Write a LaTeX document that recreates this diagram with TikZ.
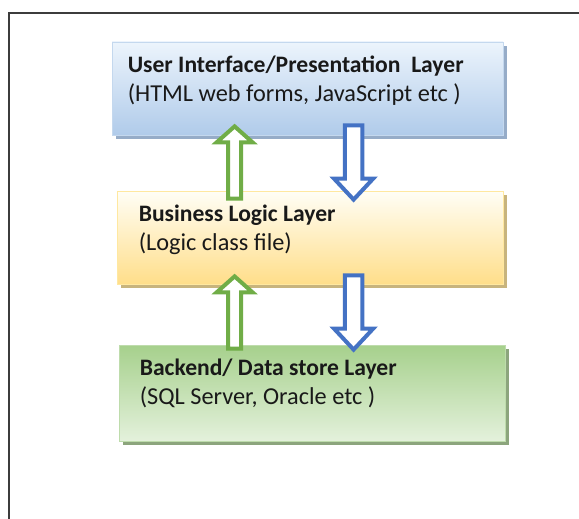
\documentclass[tikz,border=0pt]{standalone}
\usepackage{fontspec}
\setmainfont{Carlito}
\usetikzlibrary{calc,shadows}
\definecolor{txt}{RGB}{25,25,25}
\definecolor{framecol}{RGB}{60,60,60}
\definecolor{grn}{RGB}{112,173,71}
\definecolor{blu}{RGB}{68,114,196}
\definecolor{bluetop}{RGB}{236,244,252}
\definecolor{bluebot}{RGB}{176,203,234}
\definecolor{blueedge}{RGB}{196,216,238}
\definecolor{blueshad}{RGB}{150,172,200}
\definecolor{yeltop}{RGB}{255,254,246}
\definecolor{yelbot}{RGB}{255,222,138}
\definecolor{yeledge}{RGB}{255,232,160}
\definecolor{yelshad}{RGB}{200,180,125}
\definecolor{grntop}{RGB}{166,208,140}
\definecolor{grnbot}{RGB}{228,241,220}
\definecolor{grnedge}{RGB}{190,220,172}
\definecolor{grnshad}{RGB}{140,165,125}
\newcommand\mkblockarrow[6]{%
  \draw[#1] ($(#2)+(-#5,0)$) -- ($(#3)+(-#5,0)$) -- ($(#3)+(-#6,0)$) -- (#4)
    -- ($(#3)+(#6,0)$) -- ($(#3)+(#5,0)$) -- ($(#2)+(#5,0)$) -- cycle;}
\begin{document}
\begin{tikzpicture}[x=1pt,y=-1pt,
  layerbox/.style={rectangle, inner sep=0pt, line width=0.8pt},
  bluebox/.style={layerbox, draw=blueedge, top color=bluetop, bottom color=bluebot,
    general shadow={fill=blueshad, shadow xshift=4pt, shadow yshift=-4pt}},
  yelbox/.style={layerbox, draw=yeledge, top color=yeltop, bottom color=yelbot,
    general shadow={fill=yelshad, shadow xshift=4pt, shadow yshift=-4pt}},
  grnbox/.style={layerbox, draw=grnedge, top color=grntop, bottom color=grnbot,
    general shadow={fill=grnshad, shadow xshift=4pt, shadow yshift=-4pt}},
  headtxt/.style={anchor=base west, inner sep=0pt, text=txt, font=\fontsize{23.6}{28}\selectfont\bfseries},
  subtxt/.style={anchor=base west, inner sep=0pt, text=txt, font=\fontsize{24.3}{28}\selectfont},
  garrow/.style={draw=grn, fill=white, line width=4pt, line join=miter},
  barrow/.style={draw=blu, fill=white, line width=4pt, line join=miter},
  framestyle/.style={draw=framecol, line width=2.6pt}
]
\useasboundingbox (0,0) rectangle (579,519);
\fill[white] (0,0) rectangle (579,519);
% frame
\draw[framestyle] (9,520) -- (9,13) -- (580,13);
% boxes
\node[bluebox, minimum width=391pt, minimum height=93pt] (ui) at (307.5,88.5) {};
\node[yelbox, minimum width=386pt, minimum height=93pt] (bl) at (310,237.5) {};
\node[grnbox, minimum width=386pt, minimum height=96pt] (ds) at (312,393) {};
% texts
\node[headtxt] (ui1) at ($(ui.north west)+(16,31)$) {User Interface/Presentation\ \ Layer};
\node[subtxt] (ui2) at ($(ui.north west)+(16,60)$) {(HTML web forms, JavaScript etc )};
\node[headtxt] (bl1) at ($(bl.north west)+(22,31)$) {Business Logic Layer};
\node[subtxt] (bl2) at ($(bl.north west)+(22,60)$) {(Logic class file)};
\node[headtxt] (ds1) at ($(ds.north west)+(21,31)$) {Backend/ Data store Layer};
\node[subtxt] (ds2) at ($(ds.north west)+(21,60)$) {(SQL Server, Oracle etc )};
% arrow anchors
\coordinate (g1tail) at ($(bl.north west)+(118,8)$);
\coordinate (g1tip) at ($(g1tail |- ui.south)+(0,-9)$);
\coordinate (g1head) at ($(g1tip)+(0,16)$);
\coordinate (b1tail) at ($(ui.south west)+(242,-10)$);
\coordinate (b1tip) at ($(b1tail |- bl.north)+(0,9)$);
\coordinate (b1head) at ($(b1tip)+(0,-21)$);
\coordinate (g2tail) at ($(ds.north west)+(116,4)$);
\coordinate (g2tip) at ($(g2tail |- bl.south)+(0,-8)$);
\coordinate (g2head) at ($(g2tip)+(0,16)$);
\coordinate (b2tail) at ($(bl.south west)+(237,-9)$);
\coordinate (b2tip) at ($(b2tail |- ds.north)+(0,5)$);
\coordinate (b2head) at ($(b2tip)+(0,-21)$);
% arrows
\mkblockarrow{garrow}{g1tail}{g1head}{g1tip}{6.6}{18}
\mkblockarrow{barrow}{b1tail}{b1head}{b1tip}{8.8}{19.6}
\mkblockarrow{garrow}{g2tail}{g2head}{g2tip}{6.6}{18}
\mkblockarrow{barrow}{b2tail}{b2head}{b2tip}{8.8}{19.6}
\end{tikzpicture}
\end{document}
